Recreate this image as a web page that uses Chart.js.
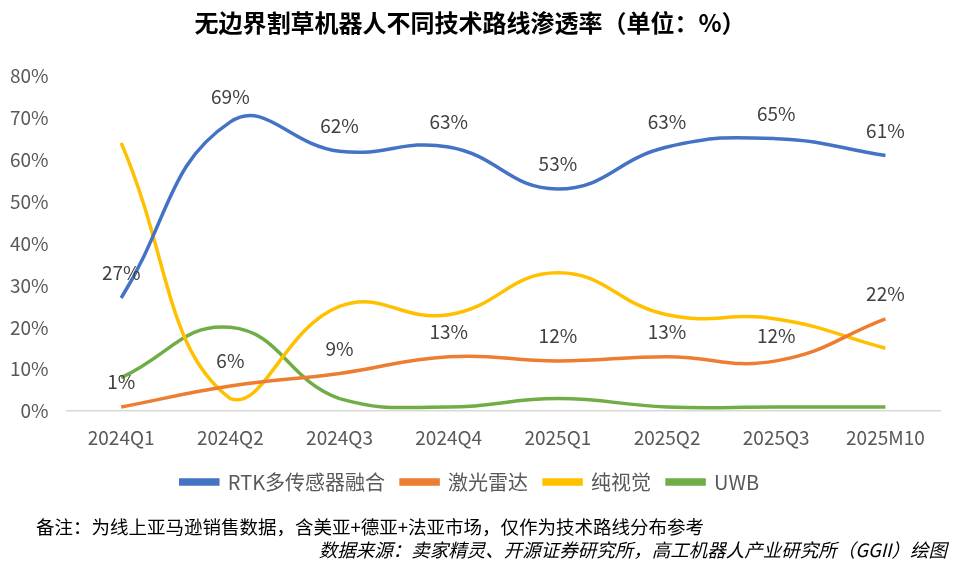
<!DOCTYPE html>
<html>
<head>
<meta charset="utf-8">
<script src="https://cdn.jsdelivr.net/npm/chart.js@4.4.1/dist/chart.umd.min.js"></script>
<style>
  html, body { margin: 0; padding: 0; background: #fff; }
  #wrap { position: relative; width: 960px; height: 571px; }
</style>
</head>
<body>
<div id="wrap"><canvas id="c" width="960" height="571"></canvas></div>
<script>
const categories = ['2024Q1', '2024Q2', '2024Q3', '2024Q4', '2025Q1', '2025Q2', '2025Q3', '2025M10'];
const rtkFusion = [27, 69, 62, 63, 53, 63, 65, 61];
const lidar = [1, 6, 9, 13, 12, 13, 12, 22];
const pureVision = [64, 3, 25, 23, 33, 23, 22, 15];
const uwb = [8, 20, 3, 1, 3, 1, 1, 1];
const yTicks = [0, 10, 20, 30, 40, 50, 60, 70, 80];
const seriesNames = ['RTK多传感器融合', '激光雷达', '纯视觉', 'UWB'];
const titleText = '无边界割草机器人不同技术路线渗透率（单位：%）';
const note1 = '备注：为线上亚马逊销售数据，含美亚+德亚+法亚市场，仅作为技术路线分布参考';
const note2 = '数据来源：卖家精灵、开源证券研究所，高工机器人产业研究所（GGII）绘图';

const FONT = '"Noto Sans CJK SC", "Noto Sans", sans-serif';
const colors = ['#4472C4', '#ED7D31', '#FFC000', '#70AD47'];

const labelPlugin = {
  id: 'valueLabels',
  afterDatasetsDraw(chart) {
    const ctx = chart.ctx;
    ctx.save();
    ctx.font = '19px ' + FONT;
    ctx.fillStyle = '#404040';
    ctx.textAlign = 'center';
    ctx.textBaseline = 'middle';
    [0, 1].forEach(di => {
      const meta = chart.getDatasetMeta(di);
      const data = chart.data.datasets[di].data;
      meta.data.forEach((pt, i) => {
        ctx.fillText(data[i] + '%', pt.x, pt.y - 25);
      });
    });
    ctx.restore();
  }
};

const notesPlugin = {
  id: 'notes',
  afterDraw(chart) {
    const ctx = chart.ctx;
    ctx.save();
    ctx.fillStyle = '#000';
    ctx.textBaseline = 'middle';
    ctx.font = '18.5px ' + FONT;
    ctx.textAlign = 'left';
    ctx.fillText(note1, 36, 527);
    ctx.font = 'italic 18.5px ' + FONT;
    ctx.textAlign = 'right';
    ctx.fillText(note2, 947, 550);
    ctx.restore();
  }
};

const datasets = [rtkFusion, lidar, pureVision, uwb].map((d, i) => ({
  label: seriesNames[i],
  data: d,
  borderColor: colors[i],
  backgroundColor: colors[i],
  borderWidth: 3.5,
  pointRadius: 0,
  tension: 0.45,
  fill: false,
  order: i
}));

new Chart(document.getElementById('c'), {
  type: 'line',
  data: { labels: categories, datasets },
  plugins: [labelPlugin, notesPlugin],
  options: {
    responsive: false,
    animation: false,
    layout: { padding: { left: 0, right: 20, top: 0, bottom: 69 } },
    plugins: {
      title: {
        display: true,
        text: titleText,
        color: '#000',
        font: { family: FONT, size: 24, weight: 'bold' },
        padding: { top: 8, bottom: 39 }
      },
      legend: {
        position: 'bottom',
        labels: {
          color: '#595959',
          font: { family: FONT, size: 20 },
          boxWidth: 37,
          boxHeight: 4,
          padding: 16
        }
      },
      tooltip: { enabled: false }
    },
    scales: {
      x: {
        offset: true,
        grid: { display: false },
        border: { display: true, color: '#D9D9D9', width: 1.5 },
        ticks: { color: '#595959', font: { family: FONT, size: 19 }, padding: 7 }
      },
      y: {
        min: 0,
        max: 80,
        afterBuildTicks(axis) { axis.ticks = yTicks.map(v => ({ value: v })); },
        grid: { display: false },
        border: { display: false },
        ticks: {
          color: '#595959',
          font: { family: FONT, size: 19 },
          padding: 10,
          callback: v => v + '%'
        }
      }
    }
  }
});
</script>
</body>
</html>
